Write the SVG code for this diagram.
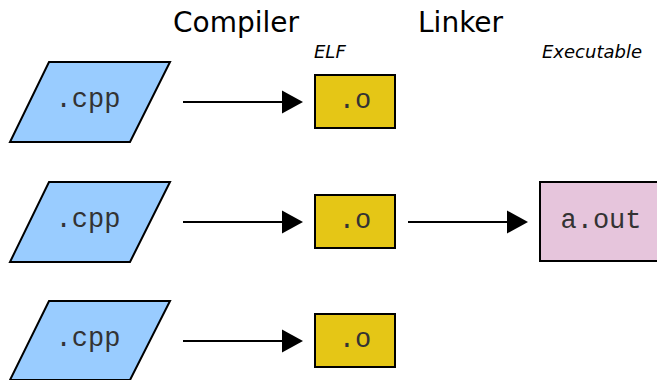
<svg xmlns="http://www.w3.org/2000/svg" width="657" height="380" viewBox="0 0 657 380">
<style>
.src{fill:#99ccff;stroke:#000;stroke-width:2}
.obj{fill:#e5c616;stroke:#000;stroke-width:2}
.exe{fill:#e6c5dc;stroke:#000;stroke-width:2}
.mono{font-family:"Liberation Mono","Courier New",monospace;font-size:27px;fill:#333;text-anchor:middle}
.head{font-family:"DejaVu Sans",sans-serif;font-size:28px;fill:#000}
.lab{font-family:"DejaVu Sans",sans-serif;font-size:18px;font-style:italic;fill:#000}
.conn{stroke:#000;stroke-width:2;fill:none;marker-end:url(#arr)}
</style>
<defs>
<marker id="arr" markerWidth="11" markerHeight="12" refX="0" refY="6" orient="auto" markerUnits="userSpaceOnUse" viewBox="0 0 11 12" overflow="visible">
<path d="M0,-5.5 L21,6 L0,17.5 Z" fill="#000"/>
</marker>
</defs>
<text class="head" x="173" y="32">Compiler</text>
<text class="head" x="418" y="32">Linker</text>
<text class="lab" x="314" y="58">ELF</text>
<text class="lab" x="542" y="58">Executable</text>
<g id="connectors">
<line class="conn" x1="183" y1="102" x2="282" y2="102"/>
<line class="conn" x1="183" y1="222" x2="282" y2="222"/>
<line class="conn" x1="183" y1="341" x2="282" y2="341"/>
<line class="conn" x1="408" y1="222" x2="507" y2="222"/>
</g>
<g id="cpp1"><polygon class="src" points="49,62 170,62 130,142 10,142"/><text class="mono" x="88" y="107">.cpp</text></g>
<g id="cpp2"><polygon class="src" points="49,182 170,182 130,262 10,262"/><text class="mono" x="88" y="227">.cpp</text></g>
<g id="cpp3"><polygon class="src" points="49,301 170,301 130,380 10,380"/><text class="mono" x="88" y="346">.cpp</text></g>
<g id="o1"><rect class="obj" x="315" y="75" width="80" height="53"/><text class="mono" x="355" y="108">.o</text></g>
<g id="o2"><rect class="obj" x="315" y="195" width="80" height="53"/><text class="mono" x="355" y="228">.o</text></g>
<g id="o3"><rect class="obj" x="315" y="314" width="80" height="53"/><text class="mono" x="355" y="347">.o</text></g>
<g id="aout"><rect class="exe" x="540" y="182" width="125" height="79"/><text class="mono" x="601" y="228">a.out</text></g>
</svg>
